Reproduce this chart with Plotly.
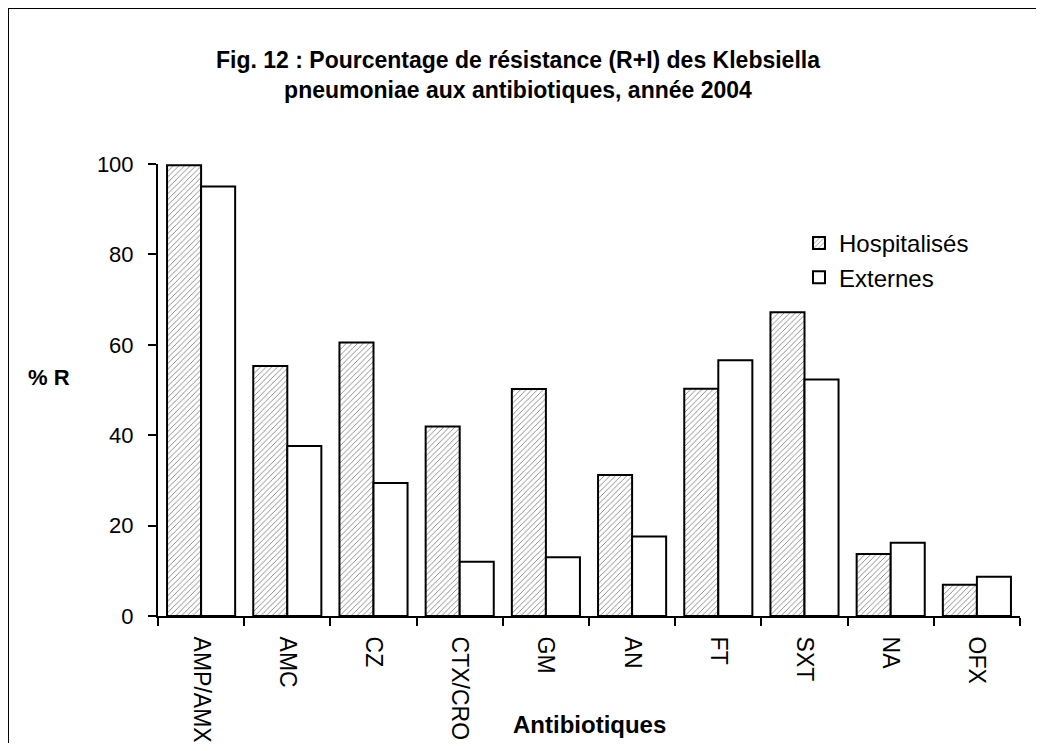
import plotly.graph_objects as go

categories = ["AMP/AMX", "AMC", "CZ", "CTX/CRO", "GM", "AN", "FT", "SXT", "NA", "OFX"]
hospitalises = [99.7, 55.3, 60.5, 41.9, 50.2, 31.2, 50.3, 67.2, 13.7, 6.9]
externes = [95.0, 37.6, 29.4, 12.0, 13.0, 17.6, 56.6, 52.3, 16.2, 8.7]
y_ticks = [0, 20, 40, 60, 80, 100]

# page body has an 8px margin; figure coordinates = screen - 8
W, H = 1028, 735
L, R, T, B = 150, 1012, 156, 608
pw, ph = R - L, B - T

def px(x):
    return (x - L) / pw

def py(y):
    return (B - y) / ph

FONT = "Liberation Sans, Arial, sans-serif"

fig = go.Figure()
fig.add_trace(go.Bar(
    x=categories, y=hospitalises, name="Hospitalisés", legendgroup="h",
    marker=dict(color="white", line=dict(color="black", width=2),
                pattern=dict(shape="/", fgcolor="black", bgcolor="white", size=4, solidity=0.22)),
))
fig.add_trace(go.Bar(
    x=categories, y=externes, name="Externes", legendgroup="e",
    marker=dict(color="white", line=dict(color="black", width=2)),
))

fig.update_layout(
    width=W, height=H,
    margin=dict(l=L, r=W - R, t=T, b=H - B, autoexpand=False),
    paper_bgcolor="white", plot_bgcolor="white",
    barmode="group", bargap=0.21, bargroupgap=0,
    font=dict(family=FONT, size=22, color="black"),
    showlegend=True,
    legend=dict(x=px(791), y=py(213), xanchor="left", yanchor="top",
                bgcolor="rgba(0,0,0,0)", font=dict(size=24),
                traceorder="grouped", tracegroupgap=0, itemwidth=30),
    title=dict(
        text="Fig. 12 : Pourcentage de résistance (R+I) des Klebsiella<br>pneumoniae aux antibiotiques, année 2004",
        x=510 / W, xanchor="center", xref="container", y=1 - 60 / H, yanchor="top",
        font=dict(family=FONT, size=23, color="black", weight="bold"),
    ),
    xaxis=dict(
        type="category", showline=True, linecolor="black", linewidth=2,
        ticks="outside", tickson="boundaries", ticklen=8, tickwidth=2, tickcolor="black",
        tickangle=90, tickfont=dict(size=23), showgrid=False, ticklabelstandoff=14,
        automargin=False,
    ),
    yaxis=dict(
        range=[0, 100], tickvals=y_ticks, showline=True, linecolor="black", linewidth=2,
        ticks="outside", ticklen=8, tickwidth=2, tickcolor="black",
        tickfont=dict(size=22), showgrid=False, zeroline=False, ticklabelstandoff=10,
        automargin=False,
    ),
    annotations=[
        dict(text="<b>% R</b>", x=px(41), y=py(369), xref="paper", yref="paper",
             showarrow=False, font=dict(size=22), xanchor="center", yanchor="middle"),
        dict(text="<b>Antibiotiques</b>", x=0.5, y=py(716), xref="paper", yref="paper",
             showarrow=False, font=dict(size=24), xanchor="center", yanchor="middle"),
    ],
    shapes=[
        dict(type="line", xref="paper", yref="paper",
             x0=px(0), y0=py(0), x1=px(W + 20), y1=py(0),
             line=dict(color="black", width=2), layer="below"),
        dict(type="line", xref="paper", yref="paper",
             x0=px(0), y0=py(0), x1=px(0), y1=py(H + 20),
             line=dict(color="black", width=2), layer="below"),
    ],
)

fig.write_html("out.html")
